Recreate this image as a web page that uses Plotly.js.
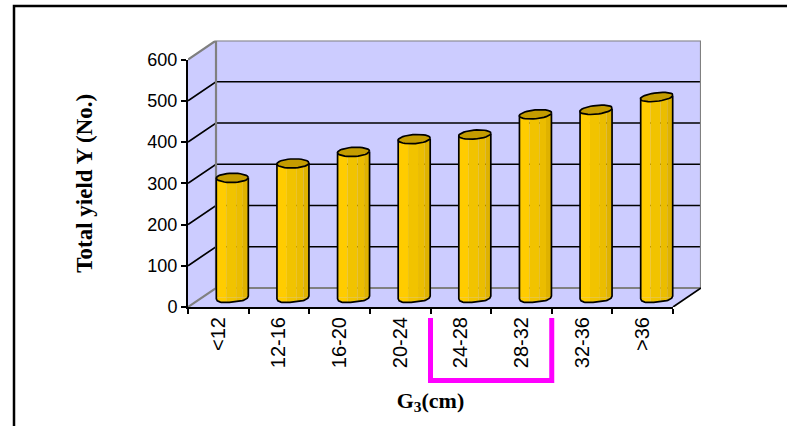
<!DOCTYPE html>
<html>
<head>
<meta charset="utf-8">
<script src="https://cdn.plot.ly/plotly-3.0.1.min.js"></script>
<style>html,body{margin:0;padding:0;background:#fff}</style>
</head>
<body>
<div id="chart" style="width:787px;height:426px"></div>
<script>
// Total yield per G3 class
const categories = ['<12', '12-16', '16-20', '20-24', '24-28', '28-32', '32-36', '>36'];
const yieldValues = [290, 325, 353, 384, 395, 444, 455, 486];
const yTicks = [0, 100, 200, 300, 400, 500, 600];
const indices = categories.map((_, i) => i);

// Frame geometry in page pixels
const W = 787, H = 426;
const frontLeft = 188, frontRight = 673, frontBottom = 307, frontTop = 59.5;
const depthPxX = 28, depthPxY = 19;
const pxPerCat = (frontRight - frontLeft) / categories.length;
const pxPerUnit = (frontBottom - frontTop) / 600;
const depthX = depthPxX / pxPerCat, depthY = depthPxY / pxPerUnit;
const fx = px => px / W, fy = py => (H - py) / H;

const wallDomainX = [fx(frontLeft), fx(frontRight + depthPxX)];
const wallDomainY = [fy(frontBottom), fy(frontTop - depthPxY)];
const wallRangeX = [-0.5, categories.length - 0.5 + depthX];
const wallRangeY = [0, 600 + depthY];

// Cylinder geometry, in units of the axes carrying the bars
const halfWidth = 16 / pxPerCat;
const capHalfHeight = 4.6 / pxPerUnit;
const bands = [
  {from: 0.00, to: 0.31, color: '#FFCC00'},
  {from: 0.31, to: 0.62, color: '#F1C300'},
  {from: 0.62, to: 0.83, color: '#EBBD00'},
  {from: 0.83, to: 1.00, color: '#DFB200'}
];
const capColor = '#C49C00';
const tilt = i => (0.3 + 0.1 * i) / pxPerUnit;
const capShear = i => 0.03 * i;
const baseTilt = 1.4 / pxPerUnit;

function bottomEdge(u) {
  return -capHalfHeight * Math.sqrt(1 - Math.pow(Math.abs(u), 3.2)) + baseTilt * u;
}

const traces = [];

// An empty trace registers the wall axes so their shapes have a subplot
traces.push({x: [], y: [], type: 'scatter', mode: 'none', xaxis: 'x2', yaxis: 'y2', hoverinfo: 'skip', showlegend: false});

// Keeps the visible category and value axes tied to the series
traces.push({x: categories, y: yieldValues, type: 'scatter', mode: 'none', xaxis: 'x', yaxis: 'y', hoverinfo: 'skip', showlegend: false});

// Cylinder bodies: one bar trace per vertical shading band
bands.forEach(b => {
  traces.push({
    type: 'bar', x: indices, y: yieldValues, xaxis: 'x3', yaxis: 'y3',
    width: (b.to - b.from) * 2 * halfWidth,
    offset: -halfWidth + b.from * 2 * halfWidth,
    marker: {color: b.color, line: {width: 0}},
    hoverinfo: 'skip', showlegend: false
  });
});

// Rounded lower ends of the cylinders, shaded with the same bands
bands.forEach(b => {
  const xs = [], ys = [];
  indices.forEach(i => {
    const n = 12;
    xs.push(i - halfWidth + b.from * 2 * halfWidth); ys.push(0);
    for (let k = 0; k <= n; k++) {
      const u = -1 + 2 * (b.from + (b.to - b.from) * k / n);
      xs.push(i + u * halfWidth); ys.push(bottomEdge(u));
    }
    xs.push(i - halfWidth + b.to * 2 * halfWidth); ys.push(0);
    xs.push(null); ys.push(null);
  });
  traces.push({type: 'scatter', mode: 'lines', x: xs, y: ys, xaxis: 'x3', yaxis: 'y3', fill: 'toself', fillcolor: b.color, line: {width: 0}, hoverinfo: 'skip', showlegend: false});
});

// Side edges and lower outline of each cylinder
(function () {
  const xs = [], ys = [];
  indices.forEach(i => {
    const v = yieldValues[i];
    xs.push(i - halfWidth); ys.push(v - tilt(i));
    for (let k = 0; k <= 32; k++) {
      const u = -1 + 2 * k / 32;
      xs.push(i + u * halfWidth); ys.push(bottomEdge(u));
    }
    xs.push(i + halfWidth); ys.push(v + tilt(i));
    xs.push(null); ys.push(null);
  });
  traces.push({type: 'scatter', mode: 'lines', x: xs, y: ys, xaxis: 'x3', yaxis: 'y3', line: {color: '#000', width: 1.7}, hoverinfo: 'skip', showlegend: false});
})();

// Elliptical tops of the cylinders
(function () {
  const xs = [], ys = [];
  indices.forEach(i => {
    const v = yieldValues[i];
    for (let k = 0; k <= 36; k++) {
      const t = 2 * Math.PI * k / 36;
      const u = Math.max(-1, Math.min(1, Math.cos(t) + capShear(i) * Math.sin(t)));
      xs.push(i + halfWidth * u);
      ys.push(v + capHalfHeight * Math.sin(t) + tilt(i) * Math.cos(t));
    }
    xs.push(null); ys.push(null);
  });
  traces.push({type: 'scatter', mode: 'lines', x: xs, y: ys, xaxis: 'x3', yaxis: 'y3', fill: 'toself', fillcolor: capColor, line: {color: '#000', width: 1.7}, hoverinfo: 'skip', showlegend: false});
})();

// Walls, floor and gridlines of the box
const wallFill = '#CCCCFF';
const edgeGray = '#808080';
const x0 = wallRangeX[0], xEnd = x0 + categories.length;
const onWall = s => Object.assign({xref: 'x2', yref: 'y2', layer: 'below'}, s);
const shapes = [
  onWall({type: 'path', path: `M${x0},600 L${x0 + depthX},${600 + depthY} L${xEnd + depthX},${600 + depthY} L${xEnd + depthX},${depthY} L${xEnd},0 L${x0},0 Z`, fillcolor: wallFill, line: {width: 0}})
];
yTicks.slice(1, -1).forEach(v => {
  shapes.push(onWall({type: 'path', path: `M${x0},${v} L${x0 + depthX},${v + depthY} L${xEnd + depthX},${v + depthY}`, line: {color: '#000', width: 1.7}}));
});
shapes.push(onWall({type: 'path', path: `M${x0},0 L${x0 + depthX},${depthY} L${xEnd + depthX},${depthY} L${xEnd + depthX},${600 + depthY} L${x0 + depthX},${600 + depthY} L${x0},600 M${x0 + depthX},${600 + depthY} L${x0 + depthX},${depthY}`, line: {color: edgeGray, width: 2.2}}));
shapes.push(onWall({type: 'line', x0: xEnd, y0: 0, x1: xEnd + depthX, y1: depthY, line: {color: '#000', width: 1.7}}));

// Outer frame of the figure, open on the right and at the bottom
shapes.push({type: 'path', xref: 'paper', yref: 'paper', layer: 'below',
  path: `M${fx(14)},${fy(426)} L${fx(14)},${fy(6)} L${fx(787)},${fy(6)}`, line: {color: '#000', width: 2.5}});

// Bracket marking the 24-32 cm classes
shapes.push({type: 'path', xref: 'x2', yref: 'paper', layer: 'above',
  path: `M3.5,${fy(318)} L3.5,${fy(380.5)} L5.5,${fy(380.5)} L5.5,${fy(318)}`, line: {color: '#FF00FF', width: 5}});

const sansFamily = '"Liberation Sans", Arial, sans-serif';
const serifFamily = '"Liberation Serif", "Times New Roman", serif';
const xTickSize = 20;

const layout = {
  width: W, height: H, autosize: false,
  margin: {l: 0, r: 0, t: 0, b: 0},
  paper_bgcolor: '#fff', plot_bgcolor: 'rgba(0,0,0,0)',
  showlegend: false, barmode: 'overlay',
  xaxis: {
    domain: [fx(frontLeft), fx(frontRight)], range: [-0.5, categories.length - 0.5],
    type: 'category', categoryorder: 'array', categoryarray: categories,
    tickson: 'boundaries', ticks: 'outside', ticklen: 5, tickwidth: 2, tickcolor: '#000',
    tickangle: -90, tickfont: {family: sansFamily, size: xTickSize, color: '#000'}, showgrid: false, zeroline: false,
    showline: true, linecolor: '#000', linewidth: 2, anchor: 'y',
    title: {text: 'G<sub>3</sub>(cm)', font: {family: serifFamily, size: 22, color: '#000', weight: 'bold'}, standoff: 25}
  },
  yaxis: {
    domain: [fy(frontBottom), fy(frontTop)], range: [0, 600],
    tickvals: yTicks, ticks: 'outside', ticklen: 5, tickwidth: 2, tickcolor: '#000',
    tickfont: {family: sansFamily, size: 18, color: '#000'}, showgrid: false, zeroline: false,
    showline: true, linecolor: '#000', linewidth: 2, anchor: 'x',
    title: {text: 'Total yield Y (No.)', font: {family: serifFamily, size: 23, color: '#000', weight: 'bold'}, standoff: 48}
  },
  xaxis2: {domain: wallDomainX, range: wallRangeX, visible: false, anchor: 'y2', fixedrange: true},
  yaxis2: {domain: wallDomainY, range: wallRangeY, visible: false, anchor: 'x2', fixedrange: true},
  xaxis3: {domain: wallDomainX, range: wallRangeX.map(r => r - depthX / 2), visible: false, anchor: 'y3', fixedrange: true},
  yaxis3: {domain: wallDomainY, range: wallRangeY.map(r => r - depthY / 2), visible: false, anchor: 'x3', fixedrange: true},
  shapes
};

Plotly.newPlot('chart', traces, layout, {staticPlot: true, displayModeBar: false}).then(gd => {
  // Keep the rotated category labels at their intended length of about 51px
  const label = Array.from(gd.querySelectorAll('.xtick text')).find(t => t.textContent === '12-16');
  const length = label ? label.getBoundingClientRect().height : 0;
  if (length > 0 && length < 48) {
    return Plotly.relayout(gd, {'xaxis.tickfont.size': xTickSize * 51 / length});
  }
});
</script>
</body>
</html>
